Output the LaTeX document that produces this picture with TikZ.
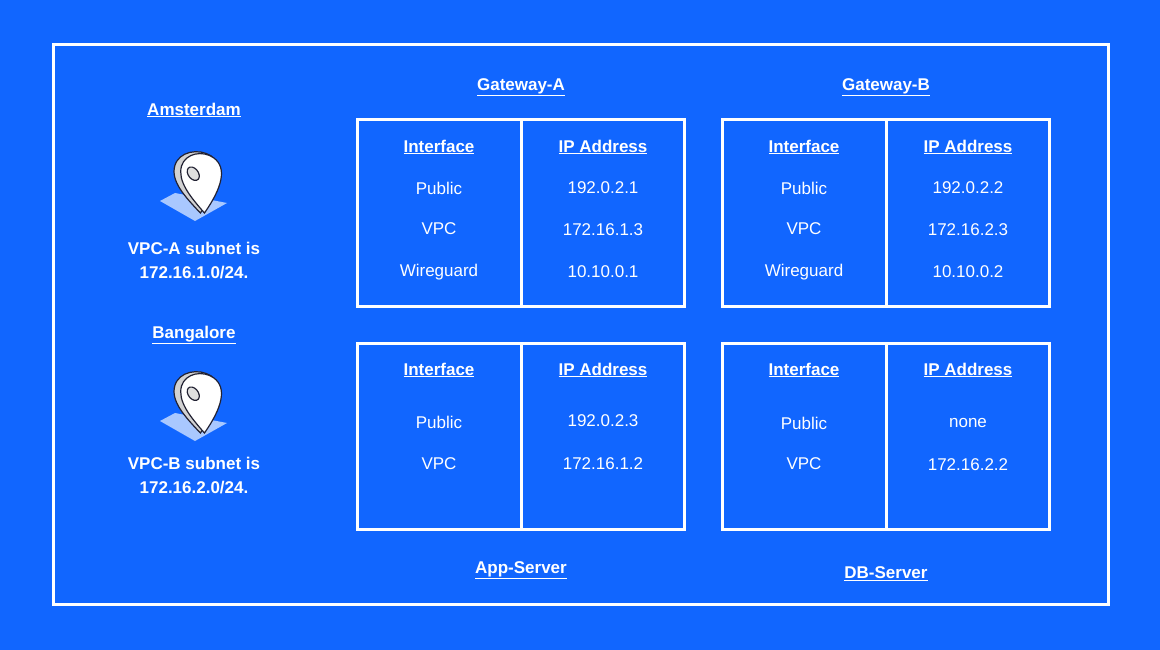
\documentclass[tikz,border=0pt]{standalone}
\usepackage{fontspec}
\setmainfont{Liberation Sans}
\definecolor{bg}{HTML}{1166FF}
\definecolor{pinline}{HTML}{222233}
\definecolor{shadowc}{HTML}{A9C8FF}
\begin{document}
\begin{tikzpicture}[x=1pt,y=-1pt,
  frame/.style={draw=white,line width=3pt},
  txt/.style={text=white,font=\fontsize{17}{20}\selectfont},
  hd/.style={text=white,font=\fontsize{17}{24}\selectfont\bfseries},
  pin/.pic={
    \fill[shadowc] (-35,15) -- (-20,7) -- (32,17) -- (0,35) -- cycle;
    \begin{scope}[xscale=1.35]
    \filldraw[fill=gray!35,draw=pinline,line width=1.2pt] (4,27) .. controls (-8,10) and (-18,-5) .. (-15,-20) .. controls (-12,-35) and (3,-38) .. (12,-30) .. controls (22,-20) and (18,0) .. (4,27) -- cycle;
    \filldraw[fill=white,draw=pinline,line width=1.2pt] (7,27) .. controls (-4,10) and (-13,-5) .. (-10,-20) .. controls (-7,-33) and (6,-36) .. (14,-28) .. controls (24,-18) and (20,2) .. (7,27) -- cycle;
    \filldraw[fill=gray!25,draw=pinline,line width=1.2pt,rotate=20] (3,-12) ellipse (4 and 7);
    \end{scope}
  }]
\fill[bg] (0,0) rectangle (1160,650);
\useasboundingbox (0,0) rectangle (1160,650);
\draw[frame] (53,45) rectangle (1108,604);

% left
\node[hd] (ams) at (194,110) {\underline{Amsterdam}};
\pic at (195,186) {pin};
\node[hd,align=center] (vpca) at (194,261) {VPC-A subnet is\\172.16.1.0/24.};
\node[hd] (ban) at (194,335) {\underline{Bangalore}};
\pic at (195,406) {pin};
\node[hd,align=center] (vpcb) at (194,476) {VPC-B subnet is\\172.16.2.0/24.};

% tables
\foreach \x/\y/\n in {357/120/ga,722/120/gb,357/343/app,722/343/db}{
  \draw[frame] (\x,\y) rectangle ++(164,186);
  \draw[frame] (\x+164,\y) rectangle ++(163,186);
}
\node[hd] (gat) at (521,87) {\underline{Gateway-A}};
\node[hd] (gbt) at (886,87) {\underline{Gateway-B}};
\node[hd] (appt) at (521,570) {\underline{App-Server}};
\node[hd] (dbt) at (886,574) {\underline{DB-Server}};

% Gateway-A
\node[hd] (ga1) at (439,147) {\underline{Interface}};
\node[hd] (ga2) at (603,147) {\underline{IP Address}};
\node[txt] (ga3) at (439,188) {Public};
\node[txt] (ga4) at (603,188) {192.0.2.1};
\node[txt] (ga5) at (439,229) {VPC};
\node[txt] (ga6) at (603,230) {172.16.1.3};
\node[txt] (ga7) at (439,272) {Wireguard};
\node[txt] (ga8) at (603,272) {10.10.0.1};
% Gateway-B
\node[hd] (gb1) at (804,147) {\underline{Interface}};
\node[hd] (gb2) at (968,147) {\underline{IP Address}};
\node[txt] (gb3) at (804,188) {Public};
\node[txt] (gb4) at (968,188) {192.0.2.2};
\node[txt] (gb5) at (804,229) {VPC};
\node[txt] (gb6) at (968,230) {172.16.2.3};
\node[txt] (gb7) at (804,272) {Wireguard};
\node[txt] (gb8) at (968,272) {10.10.0.2};
% App
\node[hd] (ap1) at (439,370) {\underline{Interface}};
\node[hd] (ap2) at (603,370) {\underline{IP Address}};
\node[txt] (ap3) at (439,422) {Public};
\node[txt] (ap4) at (603,421) {192.0.2.3};
\node[txt] (ap5) at (439,464) {VPC};
\node[txt] (ap6) at (603,464) {172.16.1.2};
% DB
\node[hd] (db1) at (804,370) {\underline{Interface}};
\node[hd] (db2) at (968,370) {\underline{IP Address}};
\node[txt] (db3) at (804,423) {Public};
\node[txt] (db4) at (968,423) {none};
\node[txt] (db5) at (804,464) {VPC};
\node[txt] (db6) at (968,465) {172.16.2.2};
\end{tikzpicture}
\end{document}
